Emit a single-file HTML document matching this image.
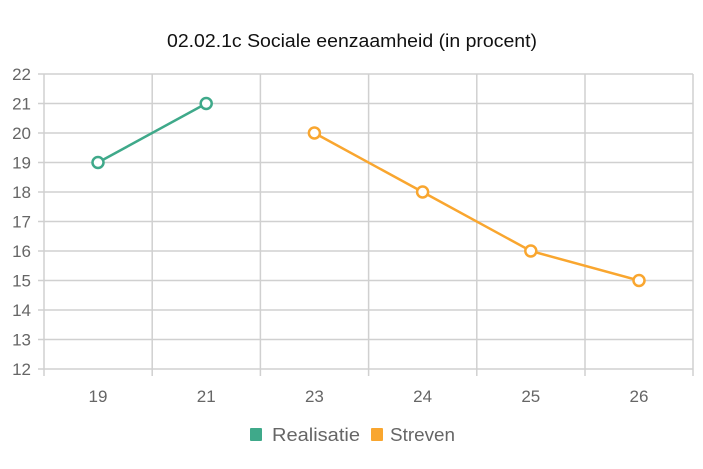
<!DOCTYPE html>
<html><head><meta charset="utf-8"><style>
html,body{margin:0;padding:0;background:#fff;}
svg{display:block;font-family:"Liberation Sans",Arial,sans-serif;}
</style></head><body>
<svg width="703" height="469" viewBox="0 0 703 469" xmlns="http://www.w3.org/2000/svg">
<text x="167" y="47" font-size="18" fill="#111" textLength="370" lengthAdjust="spacingAndGlyphs">02.02.1c Sociale eenzaamheid (in procent)</text>
<g stroke="#d0d0d0" stroke-width="1.5" fill="none">
<line x1="38" y1="74" x2="693" y2="74"/>
<line x1="38" y1="103.5" x2="693" y2="103.5"/>
<line x1="38" y1="133" x2="693" y2="133"/>
<line x1="38" y1="162.5" x2="693" y2="162.5"/>
<line x1="38" y1="192" x2="693" y2="192"/>
<line x1="38" y1="221.5" x2="693" y2="221.5"/>
<line x1="38" y1="251" x2="693" y2="251"/>
<line x1="38" y1="280.5" x2="693" y2="280.5"/>
<line x1="38" y1="310" x2="693" y2="310"/>
<line x1="38" y1="339.5" x2="693" y2="339.5"/>
<line x1="38" y1="369" x2="693" y2="369"/>
<line x1="44" y1="74" x2="44" y2="376"/>
<line x1="152.2" y1="74" x2="152.2" y2="376"/>
<line x1="260.4" y1="74" x2="260.4" y2="376"/>
<line x1="368.6" y1="74" x2="368.6" y2="376"/>
<line x1="476.8" y1="74" x2="476.8" y2="376"/>
<line x1="585" y1="74" x2="585" y2="376"/>
<line x1="693" y1="74" x2="693" y2="376"/>
</g>
<g font-size="17" fill="#666" text-anchor="end">
<text x="31" y="80">22</text><text x="31" y="109.5">21</text><text x="31" y="139">20</text>
<text x="31" y="168.5">19</text><text x="31" y="198">18</text><text x="31" y="227.5">17</text>
<text x="31" y="257">16</text><text x="31" y="286.5">15</text><text x="31" y="316">14</text>
<text x="31" y="345.5">13</text><text x="31" y="375">12</text>
</g>
<g font-size="17" fill="#666" text-anchor="middle">
<text x="98" y="402">19</text><text x="206.2" y="402">21</text><text x="314.4" y="402">23</text>
<text x="422.6" y="402">24</text><text x="530.8" y="402">25</text><text x="639" y="402">26</text>
</g>
<polyline points="98,162.5 206.2,103.5" fill="none" stroke="#3fa98a" stroke-width="2.5"/>
<polyline points="314.4,133 422.6,192 530.8,251 639,280.5" fill="none" stroke="#f9a62f" stroke-width="2.5"/>
<g fill="#fff" stroke-width="2.5">
<circle cx="98" cy="162.5" r="5.5" stroke="#3fa98a"/>
<circle cx="206.2" cy="103.5" r="5.5" stroke="#3fa98a"/>
<circle cx="314.4" cy="133" r="5.5" stroke="#f9a62f"/>
<circle cx="422.6" cy="192" r="5.5" stroke="#f9a62f"/>
<circle cx="530.8" cy="251" r="5.5" stroke="#f9a62f"/>
<circle cx="639" cy="280.5" r="5.5" stroke="#f9a62f"/>
</g>
<rect x="250" y="428" width="12" height="13" rx="1" fill="#3fa98a"/>
<text x="272" y="441" font-size="18" fill="#666" textLength="88" lengthAdjust="spacingAndGlyphs">Realisatie</text>
<rect x="371" y="428" width="12" height="13" rx="1" fill="#f9a62f"/>
<text x="390" y="441" font-size="18" fill="#666" textLength="65" lengthAdjust="spacingAndGlyphs">Streven</text>
</svg>
</body></html>
